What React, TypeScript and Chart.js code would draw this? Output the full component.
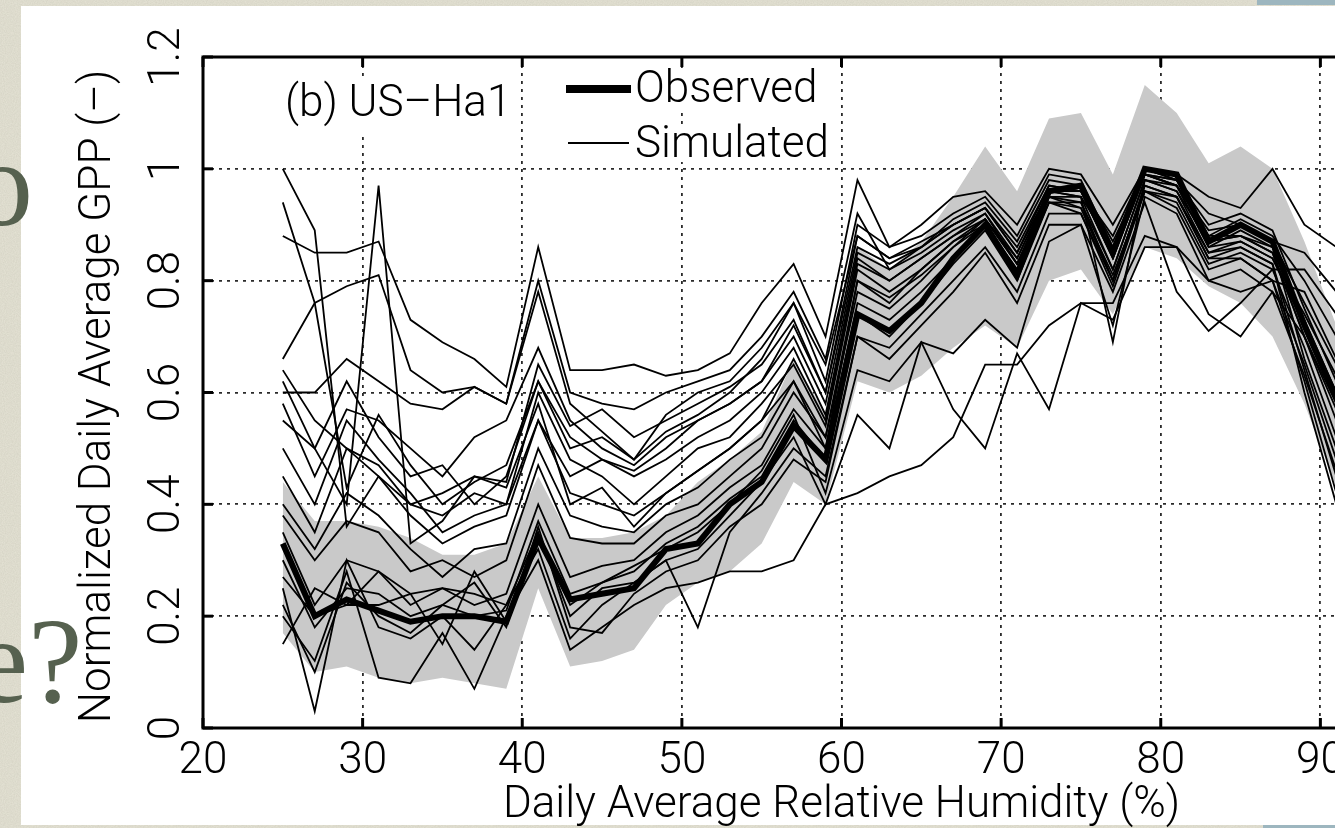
import React, { useEffect, useRef } from 'react';
import { Chart, registerables } from 'chart.js';

Chart.register(...registerables);

// ---- data ----
const humidity = [25, 27, 29, 31, 33, 35, 37, 39, 41, 43, 45, 47, 49, 51, 53, 55, 57, 59, 61, 63, 65, 67, 69, 71, 73, 75, 77, 79, 81, 83, 85, 87, 89, 91, 93, 95];

const observed = [0.33, 0.20, 0.23, 0.21, 0.19, 0.20, 0.20, 0.19, 0.34, 0.23, 0.24, 0.25, 0.32, 0.33, 0.40, 0.44, 0.54, 0.48, 0.74, 0.71, 0.76, 0.84, 0.90, 0.81, 0.96, 0.97, 0.85, 1.00, 0.99, 0.87, 0.90, 0.87, 0.72, 0.59, 0.45, 0.35];
const bandUpper = [0.44, 0.37, 0.37, 0.36, 0.34, 0.31, 0.31, 0.33, 0.45, 0.34, 0.34, 0.35, 0.38, 0.44, 0.48, 0.53, 0.66, 0.56, 0.86, 0.82, 0.87, 0.95, 1.04, 0.96, 1.09, 1.10, 0.99, 1.15, 1.10, 1.01, 1.04, 1.00, 0.87, 0.72, 0.58, 0.48];
const bandLower = [0.17, 0.10, 0.11, 0.09, 0.08, 0.09, 0.08, 0.07, 0.25, 0.11, 0.12, 0.14, 0.22, 0.26, 0.28, 0.33, 0.44, 0.40, 0.62, 0.60, 0.63, 0.68, 0.72, 0.68, 0.80, 0.82, 0.74, 0.86, 0.84, 0.79, 0.76, 0.70, 0.58, 0.43, 0.32, 0.22];

const sim01 = [1.00, 0.89, 0.36, 0.45, 0.40, 0.38, 0.42, 0.40, 0.55, 0.45, 0.48, 0.46, 0.50, 0.55, 0.58, 0.62, 0.72, 0.60, 0.88, 0.84, 0.86, 0.90, 0.93, 0.86, 0.97, 0.96, 0.88, 1.00, 0.98, 0.90, 0.92, 0.89, 0.75, 0.62, 0.50, 0.40];
const sim02 = [0.94, 0.76, 0.43, 0.56, 0.47, 0.40, 0.44, 0.47, 0.62, 0.50, 0.52, 0.48, 0.53, 0.56, 0.60, 0.66, 0.76, 0.62, 0.90, 0.86, 0.88, 0.92, 0.95, 0.88, 0.99, 0.98, 0.86, 0.99, 0.97, 0.88, 0.91, 0.88, 0.80, 0.70, 0.58, 0.46];
const sim03 = [0.88, 0.85, 0.85, 0.87, 0.73, 0.69, 0.66, 0.61, 0.86, 0.64, 0.64, 0.65, 0.63, 0.64, 0.67, 0.76, 0.83, 0.70, 0.98, 0.86, 0.90, 0.95, 0.96, 0.90, 1.00, 0.99, 0.90, 1.00, 0.99, 0.95, 0.93, 1.00, 0.90, 0.86, 0.75, 0.62];
const sim04 = [0.62, 0.50, 0.40, 0.97, 0.33, 0.37, 0.45, 0.43, 0.58, 0.40, 0.43, 0.36, 0.42, 0.46, 0.50, 0.55, 0.66, 0.55, 0.83, 0.80, 0.84, 0.88, 0.92, 0.84, 0.96, 0.95, 0.82, 0.98, 0.96, 0.87, 0.88, 0.85, 0.70, 0.55, 0.43, 0.33];
const sim05 = [0.66, 0.76, 0.79, 0.81, 0.64, 0.60, 0.61, 0.58, 0.80, 0.60, 0.58, 0.57, 0.60, 0.62, 0.64, 0.70, 0.78, 0.66, 0.92, 0.82, 0.86, 0.91, 0.94, 0.87, 0.98, 0.97, 0.87, 0.99, 0.98, 0.92, 0.90, 0.87, 0.85, 0.78, 0.66, 0.54];
const sim06 = [0.60, 0.60, 0.66, 0.62, 0.58, 0.57, 0.61, 0.58, 0.78, 0.58, 0.53, 0.48, 0.56, 0.60, 0.62, 0.68, 0.76, 0.65, 0.88, 0.84, 0.87, 0.90, 0.93, 0.85, 0.97, 0.96, 0.84, 0.99, 0.97, 0.86, 0.89, 0.86, 0.66, 0.50, 0.38, 0.30];
const sim07 = [0.58, 0.45, 0.57, 0.55, 0.50, 0.45, 0.52, 0.55, 0.68, 0.55, 0.50, 0.47, 0.52, 0.55, 0.58, 0.62, 0.70, 0.58, 0.85, 0.82, 0.85, 0.89, 0.92, 0.83, 0.95, 0.94, 0.80, 0.97, 0.95, 0.85, 0.87, 0.84, 0.72, 0.60, 0.48, 0.38];
const sim08 = [0.55, 0.50, 0.62, 0.52, 0.45, 0.47, 0.40, 0.45, 0.62, 0.52, 0.48, 0.45, 0.48, 0.52, 0.55, 0.60, 0.68, 0.56, 0.84, 0.80, 0.84, 0.88, 0.91, 0.83, 0.95, 0.93, 0.80, 0.97, 0.95, 0.84, 0.86, 0.83, 0.64, 0.45, 0.34, 0.26];
const sim09 = [0.50, 0.40, 0.55, 0.48, 0.42, 0.35, 0.38, 0.40, 0.60, 0.48, 0.45, 0.40, 0.45, 0.50, 0.52, 0.58, 0.65, 0.54, 0.82, 0.78, 0.82, 0.87, 0.90, 0.82, 0.94, 0.93, 0.81, 0.96, 0.94, 0.83, 0.85, 0.82, 0.68, 0.52, 0.40, 0.31];
const sim10 = [0.45, 0.35, 0.50, 0.45, 0.38, 0.33, 0.36, 0.38, 0.55, 0.42, 0.40, 0.38, 0.42, 0.46, 0.50, 0.55, 0.62, 0.52, 0.80, 0.77, 0.81, 0.86, 0.90, 0.81, 0.94, 0.92, 0.79, 0.96, 0.93, 0.82, 0.84, 0.80, 0.62, 0.42, 0.32, 0.24];
const sim11 = [0.38, 0.30, 0.37, 0.35, 0.28, 0.30, 0.27, 0.30, 0.47, 0.34, 0.33, 0.33, 0.38, 0.40, 0.45, 0.50, 0.60, 0.52, 0.78, 0.75, 0.80, 0.86, 0.91, 0.83, 0.96, 0.96, 0.84, 0.99, 0.98, 0.88, 0.88, 0.85, 0.70, 0.57, 0.44, 0.34];
const sim12 = [0.35, 0.22, 0.30, 0.28, 0.22, 0.25, 0.22, 0.24, 0.40, 0.27, 0.29, 0.30, 0.35, 0.38, 0.43, 0.47, 0.57, 0.50, 0.76, 0.73, 0.78, 0.84, 0.90, 0.82, 0.95, 0.95, 0.69, 0.98, 0.97, 0.86, 0.87, 0.84, 0.74, 0.63, 0.50, 0.40];
const sim13 = [0.30, 0.18, 0.25, 0.24, 0.20, 0.22, 0.20, 0.21, 0.37, 0.24, 0.26, 0.28, 0.33, 0.36, 0.41, 0.45, 0.55, 0.48, 0.74, 0.70, 0.76, 0.83, 0.89, 0.80, 0.94, 0.94, 0.82, 0.98, 0.96, 0.85, 0.86, 0.83, 0.60, 0.40, 0.30, 0.22];
const sim14 = [0.25, 0.03, 0.30, 0.18, 0.16, 0.20, 0.14, 0.22, 0.32, 0.16, 0.22, 0.26, 0.30, 0.18, 0.35, 0.42, 0.50, 0.45, 0.70, 0.68, 0.74, 0.80, 0.86, 0.78, 0.92, 0.92, 0.80, 0.96, 0.95, 0.84, 0.84, 0.80, 0.65, 0.48, 0.36, 0.28];
const sim15 = [0.20, 0.12, 0.28, 0.09, 0.08, 0.17, 0.07, 0.20, 0.30, 0.14, 0.18, 0.22, 0.25, 0.26, 0.28, 0.28, 0.30, 0.40, 0.42, 0.45, 0.47, 0.52, 0.65, 0.65, 0.72, 0.76, 0.76, 0.88, 0.86, 0.80, 0.78, 0.80, 0.78, 0.66, 0.54, 0.44];
const sim16 = [0.15, 0.25, 0.22, 0.22, 0.24, 0.25, 0.24, 0.22, 0.35, 0.20, 0.25, 0.26, 0.30, 0.32, 0.38, 0.44, 0.52, 0.40, 0.56, 0.50, 0.69, 0.67, 0.73, 0.68, 0.87, 0.90, 0.78, 0.94, 0.78, 0.71, 0.76, 0.82, 0.82, 0.74, 0.62, 0.50];
const sim17 = [0.27, 0.20, 0.22, 0.28, 0.24, 0.15, 0.28, 0.19, 0.34, 0.22, 0.26, 0.29, 0.32, 0.35, 0.40, 0.46, 0.56, 0.42, 0.64, 0.62, 0.69, 0.57, 0.50, 0.67, 0.57, 0.76, 0.73, 0.86, 0.86, 0.74, 0.70, 0.78, 0.70, 0.58, 0.46, 0.36];
const sim18 = [0.22, 0.10, 0.26, 0.20, 0.17, 0.22, 0.26, 0.18, 0.36, 0.18, 0.17, 0.24, 0.28, 0.30, 0.36, 0.40, 0.48, 0.44, 0.70, 0.66, 0.72, 0.78, 0.85, 0.76, 0.90, 0.90, 0.72, 0.95, 0.92, 0.80, 0.82, 0.78, 0.63, 0.46, 0.35, 0.27];
const sim19 = [0.64, 0.55, 0.50, 0.47, 0.40, 0.42, 0.45, 0.44, 0.65, 0.54, 0.57, 0.52, 0.55, 0.58, 0.61, 0.65, 0.73, 0.60, 0.86, 0.83, 0.86, 0.90, 0.93, 0.85, 0.96, 0.95, 0.86, 0.99, 0.97, 0.89, 0.90, 0.87, 0.76, 0.65, 0.52, 0.42];
const sim20 = [0.40, 0.32, 0.42, 0.38, 0.32, 0.27, 0.32, 0.33, 0.50, 0.38, 0.36, 0.35, 0.40, 0.43, 0.48, 0.52, 0.62, 0.50, 0.80, 0.76, 0.82, 0.87, 0.91, 0.84, 0.96, 0.96, 0.85, 1.00, 0.98, 0.87, 0.88, 0.86, 0.73, 0.60, 0.48, 0.38];
const simulated = [sim01, sim02, sim03, sim04, sim05, sim06, sim07, sim08, sim09, sim10, sim11, sim12, sim13, sim14, sim15, sim16, sim17, sim18, sim19, sim20];

const xTickValues = [20, 30, 40, 50, 60, 70, 80, 90, 100];
const yTickValues = [0, 0.2, 0.4, 0.6, 0.8, 1, 1.2];
const yTickLabels = ['0', '0.2', '0.4', '0.6', '0.8', '1', '1.2'];
const xTitle = 'Daily Average Relative Humidity (%)';
const yTitle = 'Normalized Daily Average GPP (–)';
const panelLabel = '(b) US–Ha1';
const legendLabels = ['Observed', 'Simulated'];

const FAMILY = 'Roboto, "Liberation Sans", sans-serif';
const FONT = `300 44px ${FAMILY}`;

const pts = (ys: number[]) => humidity.map((x, i) => ({ x, y: ys[i] }));

const NOISE =
  "url(\"data:image/svg+xml;utf8,<svg xmlns='http://www.w3.org/2000/svg' width='160' height='160'><filter id='n'><feTurbulence type='fractalNoise' baseFrequency='0.9' numOctaves='2' stitchTiles='stitch'/><feColorMatrix values='0 0 0 0 0.45 0 0 0 0 0.44 0 0 0 0 0.36 0 0 0 0.35 0'/></filter><rect width='160' height='160' filter='url(%23n)'/></svg>\")";

const decorPlugin = {
  id: 'decor',
  afterDatasetsDraw(chart: any) {
    const { ctx, chartArea: a, scales } = chart;
    const x = scales.x;
    const y = scales.y;
    ctx.save();
    ctx.strokeStyle = '#000';
    ctx.fillStyle = '#000';
    ctx.lineCap = 'butt';
    const seg = (x1: number, y1: number, x2: number, y2: number) => {
      ctx.beginPath();
      ctx.moveTo(x1, y1);
      ctx.lineTo(x2, y2);
      ctx.stroke();
    };
    // tick marks (inward)
    ctx.lineWidth = 3;
    xTickValues.forEach((v) => {
      const px = x.getPixelForValue(v);
      seg(px, a.bottom, px, a.bottom - 10);
      seg(px, a.top, px, a.top + 10);
    });
    yTickValues.forEach((v) => {
      const py = y.getPixelForValue(v);
      seg(a.left, py, a.left + 10, py);
      seg(a.right, py, a.right - 10, py);
    });
    // frame
    ctx.lineWidth = 3;
    ctx.strokeRect(a.left, a.top, a.right - a.left, a.bottom - a.top);

    // y tick labels (rotated)
    ctx.font = FONT;
    ctx.textAlign = 'center';
    ctx.textBaseline = 'alphabetic';
    yTickValues.forEach((v, i) => {
      const py = y.getPixelForValue(v);
      ctx.save();
      ctx.translate(a.left - 24, py);
      ctx.rotate(-Math.PI / 2);
      ctx.fillText(yTickLabels[i], 0, 0);
      ctx.restore();
    });
    // y title
    ctx.save();
    ctx.translate(a.left - 93, (a.top + a.bottom) / 2 + 4);
    ctx.rotate(-Math.PI / 2);
    ctx.fillText(yTitle, 0, 0);
    ctx.restore();
    // x title
    ctx.fillText(xTitle, (a.left + a.right) / 2, a.bottom + 89);

    // panel label and legend with white boxes
    ctx.fillStyle = '#fff';
    ctx.fillRect(a.left + 77, a.top + 20, 237, 56);
    ctx.fillRect(a.left + 357, a.top + 11, 252, 42);
    ctx.fillRect(a.left + 357, a.top + 67, 264, 38);
    ctx.fillStyle = '#000';
    ctx.textAlign = 'left';
    ctx.fillText(panelLabel, a.left + 82, a.top + 59);
    ctx.lineWidth = 8;
    seg(a.left + 363, a.top + 32, a.left + 428, a.top + 32);
    ctx.lineWidth = 2;
    seg(a.left + 365, a.top + 86, a.left + 426, a.top + 86);
    ctx.fillText(legendLabels[0], a.left + 432, a.top + 45);
    ctx.fillText(legendLabels[1], a.left + 432, a.top + 100);
    ctx.restore();
  },
};

export default function App() {
  const ref = useRef<HTMLCanvasElement>(null);

  useEffect(() => {
    const gridCommon = { color: '#2a2a2a', lineWidth: 1.8, drawTicks: false };
    const datasets: any[] = [
      {
        label: 'range-upper',
        data: pts(bandUpper),
        borderWidth: 0,
        borderColor: 'rgba(0,0,0,0)',
        backgroundColor: '#c9c9c9',
        pointRadius: 0,
        fill: '+1',
        order: 100,
      },
      {
        label: 'range-lower',
        data: pts(bandLower),
        borderWidth: 0,
        borderColor: 'rgba(0,0,0,0)',
        pointRadius: 0,
        fill: false,
        order: 100,
      },
      {
        label: legendLabels[0],
        data: pts(observed),
        borderColor: '#000',
        borderWidth: 6,
        pointRadius: 0,
        fill: false,
        order: 0,
      },
      ...simulated.map((s, i) => ({
        label: `${legendLabels[1]} ${i + 1}`,
        data: pts(s),
        borderColor: '#000',
        borderWidth: 1.8,
        pointRadius: 0,
        fill: false,
        order: 1,
      })),
    ];

    const chart = new Chart(ref.current as HTMLCanvasElement, {
      type: 'line',
      data: { datasets },
      options: {
        animation: false,
        responsive: false,
        devicePixelRatio: 1,
        layout: { padding: { left: 0, right: 20, top: 57, bottom: 0 } },
        plugins: { legend: { display: false }, tooltip: { enabled: false } },
        elements: { line: { tension: 0, borderJoinStyle: 'miter' } },
        scales: {
          x: {
            type: 'linear',
            min: 20,
            max: 100,
            ticks: {
              stepSize: 10,
              autoSkip: false,
              maxRotation: 0,
              color: '#000',
              padding: 8,
              font: { family: FAMILY, size: 44, weight: '300', lineHeight: 1.2 },
              callback: (v: any) => (v === 100 ? '' : String(v)),
            },
            grid: gridCommon,
            border: { display: false, dash: [3, 5] },
            afterFit: (s: any) => {
              s.height = 100;
            },
          },
          y: {
            type: 'linear',
            min: 0,
            max: 1.2,
            ticks: { stepSize: 0.2, display: false },
            grid: gridCommon,
            border: { display: false, dash: [3, 5] },
            afterFit: (s: any) => {
              s.width = 203;
            },
          },
        },
      } as any,
      plugins: [decorPlugin],
    });
    return () => chart.destroy();
  }, []);

  const serif: React.CSSProperties = {
    position: 'absolute',
    fontFamily: '"Liberation Serif", "DejaVu Serif", serif',
    fontSize: 122,
    lineHeight: '122px',
    color: '#56614f',
    whiteSpace: 'nowrap',
    zIndex: 3,
  };

  return (
    <div
      style={{
        position: 'fixed',
        left: 0,
        top: 0,
        width: 1335,
        height: 828,
        overflow: 'hidden',
        backgroundColor: '#e6e4d6',
        backgroundImage: NOISE,
      }}
    >
      <div style={{ position: 'absolute', left: 21, top: 6, width: 1400, height: 819, background: '#fff' }} />
      <div style={{ position: 'absolute', left: 1257, top: 0, width: 90, height: 5, background: '#9db6bf' }} />
      <div style={{ position: 'absolute', left: 1263, top: 825, width: 90, height: 4, background: '#9db6bf' }} />
      <canvas
        ref={ref}
        width={1500}
        height={828}
        style={{ position: 'absolute', left: 0, top: 0, width: 1500, height: 828, zIndex: 2 }}
      />
      <div style={{ ...serif, left: -28, top: 123 }}>o</div>
      <div style={{ ...serif, left: -26, top: 600 }}>e?</div>
    </div>
  );
}
